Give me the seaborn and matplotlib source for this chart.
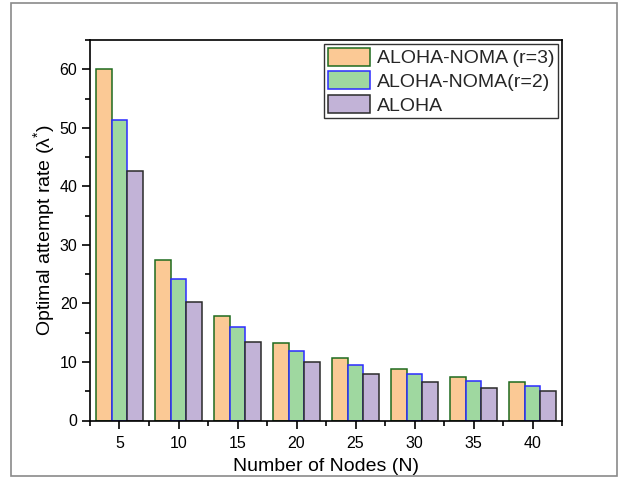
import matplotlib
matplotlib.use("Agg")
import matplotlib.pyplot as plt
from matplotlib.patches import Rectangle
from matplotlib.ticker import MultipleLocator
import numpy as np
import pandas as pd
import seaborn as sns

# Number of nodes and optimal attempt rate for each scheme
nodes = [5, 10, 15, 20, 25, 30, 35, 40]
noma_r3 = [60.0, 27.5, 17.9, 13.3, 10.6, 8.8, 7.5, 6.5]
noma_r2 = [51.3, 24.2, 15.9, 11.8, 9.5, 7.9, 6.7, 5.9]
aloha = [42.6, 20.3, 13.4, 10.0, 8.0, 6.6, 5.6, 5.0]
series_names = ["ALOHA-NOMA (r=3)", "ALOHA-NOMA(r=2)", "ALOHA"]

fills = ["#FBC995", "#9FD8A0", "#C2B3D7"]
edges = ["#1E6B1E", "#2B2BFF", "#2A2A2A"]

df = pd.DataFrame({
    "N": nodes * 3,
    "rate": noma_r3 + noma_r2 + aloha,
    "scheme": sum([[s] * len(nodes) for s in series_names], []),
})

sns.set_theme(style="white")
plt.rcParams["font.family"] = ["Liberation Sans", "DejaVu Sans"]
plt.rcParams["mathtext.fontset"] = "custom"
plt.rcParams["mathtext.rm"] = "Liberation Sans"
plt.rcParams["mathtext.it"] = "Liberation Sans:italic"

fig = plt.figure(figsize=(6.24, 4.78), dpi=100)
ax = fig.add_axes([90 / 624, (478 - 420.5) / 478, 472 / 624, 380.5 / 478])

sns.barplot(data=df, x="N", y="rate", hue="scheme", hue_order=series_names,
            palette=fills, native_scale=True, width=0.78, saturation=1,
            linewidth=1.1, legend=False, ax=ax)

for cont, ec in zip(ax.containers, edges):
    for p in cont.patches:
        p.set_edgecolor(ec)
        p.set_linewidth(1.1)

ax.set_xlim(2.5, 42.5)
ax.set_ylim(0, 65)
ax.xaxis.set_major_locator(MultipleLocator(5))
ax.xaxis.set_minor_locator(MultipleLocator(2.5))
ax.yaxis.set_major_locator(MultipleLocator(10))
ax.yaxis.set_minor_locator(MultipleLocator(5))
ax.set_xticks(nodes)
ax.set_xticklabels([str(n) for n in nodes])

ax.tick_params(axis="both", which="major", direction="out", length=6, width=1.2,
               color="black", labelsize=11.5, pad=3, labelcolor="black")
ax.tick_params(axis="both", which="minor", direction="out", length=3.5, width=1.2,
               color="black")
ax.tick_params(axis="x", which="major", pad=5)
ax.tick_params(top=False, right=False, which="both")
ax.tick_params(bottom=True, left=True, which="both")

for s in ax.spines.values():
    s.set_color("black")
    s.set_linewidth(1.2)

ax.set_xlabel("Number of Nodes (N)", fontsize=14, labelpad=5, color="black")
ax.set_ylabel("Optimal attempt rate (λ$^{*}$)", fontsize=14, labelpad=2,
              color="black")

handles = [cont.patches[0] for cont in ax.containers]
leg = ax.legend(handles, series_names, loc="upper right", fontsize=14,
                frameon=True, fancybox=False, shadow=False,
                handlelength=2.15, handleheight=1.05, handletextpad=0.35,
                labelspacing=0.2, borderpad=0.2, borderaxespad=0.2)
leg.get_frame().set_edgecolor("black")
leg.get_frame().set_linewidth(1.0)

# thin grey border around the whole figure
fig.patches.append(Rectangle((11 / 624, (478 - 476) / 478), 606 / 624, 473 / 478,
                             transform=fig.transFigure, fill=False,
                             edgecolor="#8A8A8A", linewidth=1.2))

fig.savefig("out.png", dpi=100)
